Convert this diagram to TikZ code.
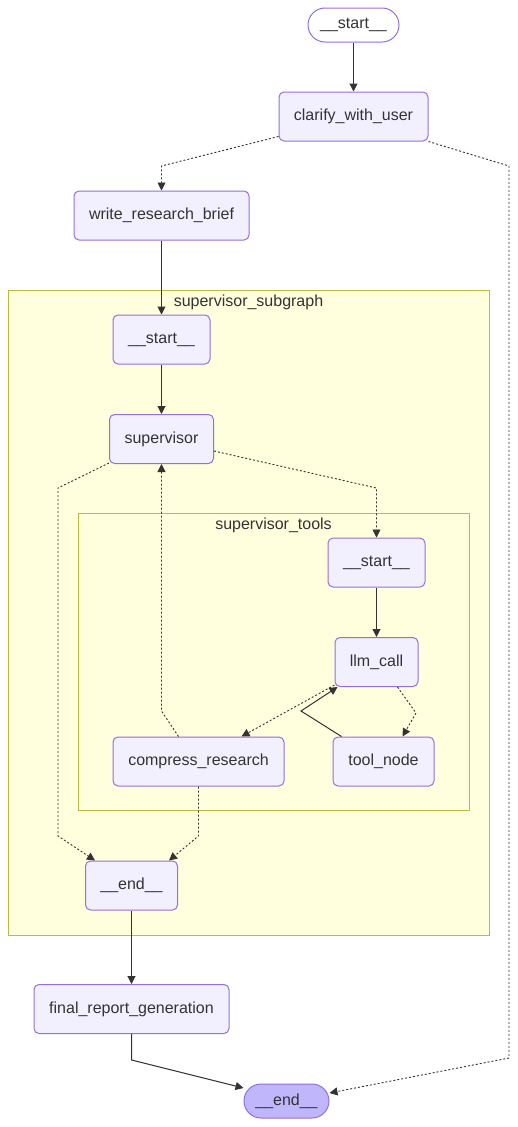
\documentclass[tikz,border=0pt]{standalone}
\usepackage{fontspec}
\setmainfont{Liberation Sans}
\usetikzlibrary{arrows.meta,calc}
\definecolor{nfill}{HTML}{F2F0FF}
\definecolor{nstroke}{HTML}{9370DB}
\definecolor{cfill}{HTML}{FFFFDE}
\definecolor{cstroke}{HTML}{BBBB40}
\definecolor{ink}{HTML}{333333}
\definecolor{endfill}{HTML}{BFB6FC}
\begin{document}
\begin{tikzpicture}[x=1pt,y=-1pt,
  every node/.style={font=\fontsize{16}{19}\selectfont, text=ink},
  box/.style={draw=nstroke, fill=nfill, line width=1pt, rounded corners=5pt, inner sep=0pt, minimum height=49pt},
  pill/.style={draw=nstroke, line width=1pt, rounded corners=17pt, inner sep=0pt, minimum height=34pt},
  cluster/.style={draw=cstroke, fill=cfill, line width=1pt},
  solidedge/.style={draw=ink, line width=1pt, -{Triangle[length=8pt,width=8pt]}},
  dotedge/.style={draw=ink, line width=0.9pt, dash pattern=on 2pt off 2pt, -{Triangle[length=8pt,width=8pt]}}
]
\useasboundingbox (0,0) rectangle (517,1127);
\fill[white] (0,0) rectangle (517,1127);

% clusters
\draw[cluster] (8,290) rectangle (489,935);
\node (lblsub) at (248.5,302) {supervisor\_subgraph};
\draw[cluster] (78,513) rectangle (469,810);
\node (lbltools) at (273.5,525) {supervisor\_tools};

% nodes
\node[pill, fill=white, minimum width=91pt] (start) at (353.5,25) {\_\_start\_\_};
\node[box, minimum width=149pt] (clarify) at (353.5,116.5) {clarify\_with\_user};
\node[box, minimum width=175pt] (wrb) at (161.5,215.5) {write\_research\_brief};
\node[box, minimum width=97pt] (sstart) at (161.5,339.5) {\_\_start\_\_};
\node[box, minimum width=104pt] (sup) at (161.5,439) {supervisor};
\node[box, minimum width=97pt] (tstart) at (376.5,562.5) {\_\_start\_\_};
\node[box, minimum width=83pt] (llm) at (376.5,662) {llm\_call};
\node[box, minimum width=171pt] (comp) at (198.5,761.5) {compress\_research};
\node[box, minimum width=101pt] (tool) at (383.5,761.5) {tool\_node};
\node[box, minimum width=92pt] (send) at (131.5,885.5) {\_\_end\_\_};
\node[box, minimum width=195pt] (final) at (131.5,1009) {final\_report\_generation};
\node[pill, fill=endfill, minimum width=85pt] (end) at (286.5,1101) {\_\_end\_\_};

% edges
\draw[solidedge] (start) -- (clarify);
\draw[dotedge] ([yshift=5pt]clarify.south west) -- (161.5,166) -- (wrb.north);
\draw[dotedge] (clarify.south east) -- (509,166) -- (509,1058) -- ([yshift=8pt]end.east);
\draw[solidedge] (wrb) -- (sstart);
\draw[solidedge] (sstart) -- (sup);
\draw[dotedge] ([yshift=1pt]sup.south west) -- (58,488) -- (58,836) -- ([xshift=10pt]send.north west);
\draw[dotedge] ([yshift=-12pt]sup.east) -- (376.5,488) -- (tstart.north);
\draw[solidedge] (tstart) -- (llm);
\draw[dotedge] ([xshift=66pt]comp.north west) -- (161.5,711) -- (sup.south);
\draw[dotedge] (comp.south) -- (198.5,836) -- ([xshift=-9pt]send.north east);
\draw[dotedge] ([yshift=2pt]llm.south west) -- ([xshift=-43pt]comp.north east);
\draw[dotedge] ([xshift=-21pt]llm.south east) -- (416,713) -- ([xshift=-32pt]tool.north east);
\draw[solidedge] ([xshift=9pt]tool.north west) -- (301,711) -- ([xshift=3pt]llm.south west);
\draw[solidedge] (send.south) -- (send.south |- final.north);
\draw[solidedge] (final.south) -- (131.5,1060) -- ([yshift=13pt]end.west);
\end{tikzpicture}
\end{document}
